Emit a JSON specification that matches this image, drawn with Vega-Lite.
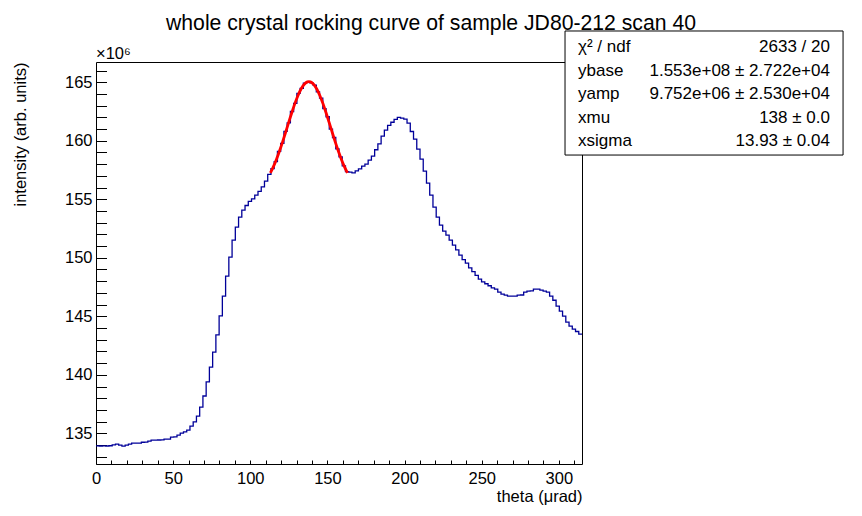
{
  "$schema": "https://vega.github.io/schema/vega-lite/v6.json",
  "width": 486,
  "height": 402,
  "autosize": {"type": "none"},
  "padding": {"left": 96, "top": 62, "right": 280, "bottom": 52},
  "background": "white",
  "config": {
    "view": {"stroke": "black", "strokeWidth": 1},
    "font": "Liberation Sans",
    "text": {"font": "Liberation Sans", "color": "black"}
  },
  "title": {
    "text": "whole crystal rocking curve of sample JD80-212 scan 40",
    "font": "Liberation Sans",
    "fontSize": 21.2,
    "fontWeight": "normal",
    "color": "black",
    "anchor": "middle",
    "frame": "group",
    "dx": 92,
    "offset": -4
  },
  "datasets": {
    "hist": [
      {"theta": 0, "counts": 133930000}, {"theta": 2.1, "counts": 133920000}, {"theta": 4.2, "counts": 133930000}, {"theta": 6.3, "counts": 133920000},
      {"theta": 8.4, "counts": 133940000}, {"theta": 10.5, "counts": 134020000}, {"theta": 12.6, "counts": 134070000}, {"theta": 14.7, "counts": 133990000},
      {"theta": 16.8, "counts": 133900000}, {"theta": 18.9, "counts": 133990000}, {"theta": 21, "counts": 134070000}, {"theta": 23.1, "counts": 134160000},
      {"theta": 25.2, "counts": 134160000}, {"theta": 27.3, "counts": 134170000}, {"theta": 29.4, "counts": 134240000}, {"theta": 31.5, "counts": 134250000},
      {"theta": 33.6, "counts": 134330000}, {"theta": 35.7, "counts": 134420000}, {"theta": 37.8, "counts": 134420000}, {"theta": 39.9, "counts": 134430000},
      {"theta": 42, "counts": 134440000}, {"theta": 44.1, "counts": 134500000}, {"theta": 46.2, "counts": 134510000}, {"theta": 48.3, "counts": 134670000},
      {"theta": 50.4, "counts": 134690000}, {"theta": 52.5, "counts": 134840000}, {"theta": 54.6, "counts": 135010000}, {"theta": 56.7, "counts": 135130000},
      {"theta": 58.8, "counts": 135270000}, {"theta": 60.9, "counts": 135610000}, {"theta": 63, "counts": 135980000}, {"theta": 65.1, "counts": 136470000},
      {"theta": 67.2, "counts": 137240000}, {"theta": 69.3, "counts": 138190000}, {"theta": 71.4, "counts": 139400000}, {"theta": 73.5, "counts": 140650000},
      {"theta": 75.6, "counts": 141940000}, {"theta": 77.7, "counts": 143420000}, {"theta": 79.8, "counts": 145040000}, {"theta": 81.9, "counts": 146720000},
      {"theta": 84, "counts": 148430000}, {"theta": 86.1, "counts": 150060000}, {"theta": 88.2, "counts": 151510000}, {"theta": 90.3, "counts": 152620000},
      {"theta": 92.4, "counts": 153470000}, {"theta": 94.5, "counts": 154070000}, {"theta": 96.6, "counts": 154470000}, {"theta": 98.7, "counts": 154820000},
      {"theta": 100.8, "counts": 155030000}, {"theta": 102.9, "counts": 155360000}, {"theta": 105, "counts": 155670000}, {"theta": 107.1, "counts": 156060000},
      {"theta": 109.2, "counts": 156550000}, {"theta": 111.3, "counts": 157130000}, {"theta": 113.4, "counts": 157620000}, {"theta": 115.5, "counts": 158220000},
      {"theta": 117.6, "counts": 159100000}, {"theta": 119.7, "counts": 159780000}, {"theta": 121.8, "counts": 160800000}, {"theta": 123.9, "counts": 161520000},
      {"theta": 126, "counts": 162500000}, {"theta": 128.1, "counts": 163200000}, {"theta": 130.2, "counts": 164050000}, {"theta": 132.3, "counts": 164480000},
      {"theta": 134.4, "counts": 164930000}, {"theta": 136.5, "counts": 165020000}, {"theta": 138.6, "counts": 164950000}, {"theta": 140.7, "counts": 164750000},
      {"theta": 142.8, "counts": 164180000}, {"theta": 144.9, "counts": 163650000}, {"theta": 147, "counts": 162750000}, {"theta": 149.1, "counts": 162050000},
      {"theta": 151.2, "counts": 161000000}, {"theta": 153.3, "counts": 160280000}, {"theta": 155.4, "counts": 159300000}, {"theta": 157.5, "counts": 158620000},
      {"theta": 159.6, "counts": 157850000}, {"theta": 161.7, "counts": 157360000}, {"theta": 163.8, "counts": 157320000}, {"theta": 165.9, "counts": 157250000},
      {"theta": 168, "counts": 157430000}, {"theta": 170.1, "counts": 157600000}, {"theta": 172.2, "counts": 157830000}, {"theta": 174.3, "counts": 158000000},
      {"theta": 176.4, "counts": 158350000}, {"theta": 178.5, "counts": 158690000}, {"theta": 180.6, "counts": 159230000}, {"theta": 182.7, "counts": 159730000},
      {"theta": 184.8, "counts": 160400000}, {"theta": 186.9, "counts": 160910000}, {"theta": 189, "counts": 161320000}, {"theta": 191.1, "counts": 161580000},
      {"theta": 193.2, "counts": 161820000}, {"theta": 195.3, "counts": 162000000}, {"theta": 197.4, "counts": 161940000}, {"theta": 199.5, "counts": 161850000},
      {"theta": 201.6, "counts": 161510000}, {"theta": 203.7, "counts": 160790000}, {"theta": 205.8, "counts": 160140000}, {"theta": 207.9, "counts": 159290000},
      {"theta": 210, "counts": 158430000}, {"theta": 212.1, "counts": 157410000}, {"theta": 214.2, "counts": 156380000}, {"theta": 216.3, "counts": 155360000},
      {"theta": 218.4, "counts": 154330000}, {"theta": 220.5, "counts": 153470000}, {"theta": 222.6, "counts": 152790000}, {"theta": 224.7, "counts": 152280000},
      {"theta": 226.8, "counts": 151940000}, {"theta": 228.9, "counts": 151510000}, {"theta": 231, "counts": 151080000}, {"theta": 233.1, "counts": 150670000},
      {"theta": 235.2, "counts": 150230000}, {"theta": 237.3, "counts": 149840000}, {"theta": 239.4, "counts": 149550000}, {"theta": 241.5, "counts": 149130000},
      {"theta": 243.6, "counts": 148820000}, {"theta": 245.7, "counts": 148500000}, {"theta": 247.8, "counts": 148180000}, {"theta": 249.9, "counts": 147950000},
      {"theta": 252, "counts": 147780000}, {"theta": 254.1, "counts": 147610000}, {"theta": 256.2, "counts": 147430000}, {"theta": 258.3, "counts": 147320000},
      {"theta": 260.4, "counts": 147070000}, {"theta": 262.5, "counts": 146900000}, {"theta": 264.6, "counts": 146810000}, {"theta": 266.7, "counts": 146730000},
      {"theta": 268.8, "counts": 146720000}, {"theta": 270.9, "counts": 146730000}, {"theta": 273, "counts": 146810000}, {"theta": 275.1, "counts": 146820000},
      {"theta": 277.2, "counts": 147070000}, {"theta": 279.3, "counts": 147150000}, {"theta": 281.4, "counts": 147170000}, {"theta": 283.5, "counts": 147320000},
      {"theta": 285.6, "counts": 147320000}, {"theta": 287.7, "counts": 147240000}, {"theta": 289.8, "counts": 147150000}, {"theta": 291.9, "counts": 147070000},
      {"theta": 294, "counts": 146720000}, {"theta": 296.1, "counts": 146370000}, {"theta": 298.2, "counts": 145870000}, {"theta": 300.3, "counts": 145440000},
      {"theta": 302.4, "counts": 145020000}, {"theta": 304.5, "counts": 144500000}, {"theta": 306.6, "counts": 144160000}, {"theta": 308.7, "counts": 143900000},
      {"theta": 310.8, "counts": 143700000}, {"theta": 312.9, "counts": 143470000}, {"theta": 315, "counts": 143470000}
    ],
    "fit": [
      {"theta": 113, "fit": 157248000}, {"theta": 115, "fit": 157796000}, {"theta": 117, "fit": 158430000}, {"theta": 119, "fit": 159147000},
      {"theta": 121, "fit": 159931000}, {"theta": 123, "fit": 160761000}, {"theta": 125, "fit": 161609000}, {"theta": 127, "fit": 162439000},
      {"theta": 129, "fit": 163215000}, {"theta": 131, "fit": 163895000}, {"theta": 133, "fit": 164443000}, {"theta": 135, "fit": 164829000},
      {"theta": 137, "fit": 165027000}, {"theta": 138, "fit": 165052000}, {"theta": 139, "fit": 165027000}, {"theta": 141, "fit": 164829000},
      {"theta": 143, "fit": 164443000}, {"theta": 145, "fit": 163895000}, {"theta": 147, "fit": 163215000}, {"theta": 149, "fit": 162439000},
      {"theta": 151, "fit": 161609000}, {"theta": 153, "fit": 160761000}, {"theta": 155, "fit": 159931000}, {"theta": 157, "fit": 159147000},
      {"theta": 159, "fit": 158430000}, {"theta": 161, "fit": 157796000}, {"theta": 163, "fit": 157248000}
    ],
    "stats": [
      {"name": "χ² / ndf", "value": "2633 / 20"},
      {"name": "ybase", "value": "1.553e+08 ± 2.722e+04"},
      {"name": "yamp", "value": "9.752e+06 ± 2.530e+04"},
      {"name": "xmu", "value": "138 ± 0.0"},
      {"name": "xsigma", "value": "13.93 ± 0.04"}
    ]
  },
  "layer": [
    {
      "layer": [
        {
          "data": {"name": "hist"},
          "mark": {"type": "line", "interpolate": "step-after", "color": "#000099", "strokeWidth": 1.3},
          "encoding": {
            "x": {
              "field": "theta", "type": "quantitative",
              "scale": {"domain": [0, 315], "nice": false, "zero": false},
              "axis": {
                "title": "theta (μrad)",
                "values": [0,10,20,30,40,50,60,70,80,90,100,110,120,130,140,150,160,170,180,190,200,210,220,230,240,250,260,270,280,290,300,310],
                "tickCount": 100,
                "format": "d",
                "labelExpr": "datum.value % 50 === 0 ? datum.label : ''",
                "tickSize": -4,
                "encode": {"ticks": {"update": {"y2": {"signal": "datum.value % 50 === 0 ? -8 : -4"}}}},
                "tickColor": "black", "tickWidth": 1,
                "domain": false, "grid": false,
                "labelFont": "Liberation Sans", "labelFontSize": 16.5, "labelColor": "black",
                "labelPadding": 10.5, "labelFlush": false, "labelOverlap": false,
                "titleFont": "Liberation Sans", "titleFontSize": 16.5, "titleFontWeight": "normal", "titleColor": "black",
                "titleAnchor": "end", "titleAlign": "right", "titleBaseline": "alphabetic",
                "titleX": 486, "titleY": 37
              }
            },
            "y": {
              "field": "counts", "type": "quantitative",
              "scale": {"domain": [132380000, 166730000], "nice": false, "zero": false},
              "axis": {
                "title": "intensity (arb. units)",
                "values": [133000000,134000000,135000000,136000000,137000000,138000000,139000000,140000000,141000000,142000000,143000000,144000000,145000000,146000000,147000000,148000000,149000000,150000000,151000000,152000000,153000000,154000000,155000000,156000000,157000000,158000000,159000000,160000000,161000000,162000000,163000000,164000000,165000000,166000000],
                "tickCount": 100,
                "labelExpr": "datum.value % 5000000 === 0 ? format(datum.value / 1000000, 'd') : ''",
                "tickSize": -10.5,
                "encode": {"ticks": {"update": {"x2": {"signal": "datum.value % 5000000 === 0 ? 21 : 10.5"}}}},
                "tickColor": "black", "tickWidth": 1,
                "domain": false, "grid": false,
                "labelFont": "Liberation Sans", "labelFontSize": 16.5, "labelColor": "black",
                "labelPadding": 14.5, "labelFlush": false, "labelOverlap": false,
                "titleFont": "Liberation Sans", "titleFontSize": 16.5, "titleFontWeight": "normal", "titleColor": "black",
                "titleAngle": -90, "titleAnchor": "end", "titleAlign": "right", "titleBaseline": "middle",
                "titleX": -76, "titleY": 0
              }
            }
          }
        },
        {
          "data": {"name": "fit"},
          "mark": {"type": "line", "interpolate": "monotone", "color": "#ff0000", "strokeWidth": 2.8},
          "encoding": {
            "x": {"field": "theta", "type": "quantitative"},
            "y": {"field": "fit", "type": "quantitative"}
          }
        },
        {
          "data": {"values": [{"box": "stats"}]},
          "mark": {"type": "rect", "fill": "white", "stroke": "black", "strokeWidth": 1},
          "encoding": {
            "x": {"datum": 304.0},
            "x2": {"datum": 484.2},
            "y": {"datum": 169380000},
            "y2": {"datum": 158780000}
          }
        },
        {
          "data": {"values": [{"label": "×10⁶"}]},
          "mark": {"type": "text", "align": "left", "baseline": "alphabetic", "dy": -3, "fontSize": 16.5},
          "encoding": {
            "x": {"datum": 0},
            "y": {"datum": 166730000},
            "text": {"field": "label"}
          }
        }
      ]
    },
    {
      "data": {"name": "stats"},
      "layer": [
        {
          "mark": {"type": "text", "align": "left", "baseline": "middle", "fontSize": 17},
          "encoding": {
            "x": {"datum": 312.4},
            "y": {"field": "name", "type": "nominal", "sort": null, "scale": {"type": "point", "range": [-15, 79], "padding": 0}, "axis": null},
            "text": {"field": "name"}
          }
        },
        {
          "mark": {"type": "text", "align": "right", "baseline": "middle", "fontSize": 17},
          "encoding": {
            "x": {"datum": 475.7},
            "y": {"field": "name", "type": "nominal", "sort": null, "axis": null},
            "text": {"field": "value"}
          }
        }
      ]
    }
  ],
  "resolve": {"scale": {"y": "independent"}, "axis": {"y": "independent"}}
}
